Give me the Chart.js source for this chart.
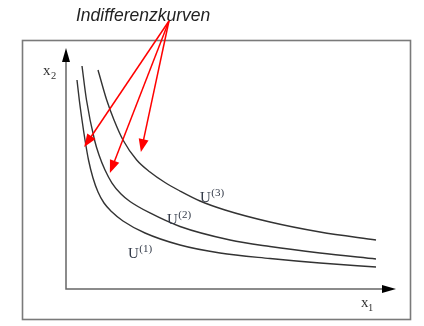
<!DOCTYPE html>
<html>
<head>
<meta charset="utf-8">
<script src="https://cdn.jsdelivr.net/npm/chart.js@4.4.0/dist/chart.umd.min.js"></script>
<style>
  html, body { margin: 0; padding: 0; background: #fff; }
</style>
</head>
<body>
<canvas id="graficoKurven" width="424" height="326"></canvas>
<script>
// Indifferenzkurven
const u1X = [0.333, 0.403, 0.485, 0.576, 0.682, 0.818, 0.970, 1.152, 1.394, 1.727, 2.394, 3.455, 4.667, 6.182, 7.697, 9.394];
const u1Y = [8.672, 7.842, 7.012, 6.183, 5.353, 4.606, 4.025, 3.568, 3.195, 2.822, 2.324, 1.826, 1.494, 1.266, 1.079, 0.913];
const u2X = [0.485, 0.621, 0.864, 1.000, 1.182, 1.394, 1.667, 1.939, 2.545, 3.455, 4.970, 6.182, 7.697, 9.394];
const u2Y = [9.253, 7.842, 6.183, 5.560, 4.938, 4.398, 3.942, 3.631, 3.154, 2.593, 2.033, 1.763, 1.494, 1.245];
const u3X = [0.970, 1.233, 1.455, 1.727, 2.142, 2.545, 3.000, 3.455, 4.061, 4.818, 6.182, 7.697, 9.394];
const u3Y = [9.087, 7.842, 7.012, 6.183, 5.353, 4.855, 4.419, 4.066, 3.651, 3.278, 2.780, 2.365, 2.033];

// Beschriftungen der Kurven
const kurvenNamen = ['1', '2', '3'];
const namenX = [1.88, 3.06, 4.06];
const namenY = [1.29, 2.70, 3.61];

// Pfeile: gemeinsamer Ursprung und Spitzen
const titel = 'Indifferenzkurven';
const pfeilStart = { x: 3.12, y: 11.12 };
const pfeilSpitzeX = [0.55, 1.33, 2.27];
const pfeilSpitzeY = [5.89, 4.81, 5.68];

function punkte(xs, ys) {
    return xs.map(function (x, i) { return { x: x, y: ys[i] }; });
}

function kurve(xs, ys) {
    return {
        data: punkte(xs, ys),
        showLine: true,
        borderColor: '#333',
        borderWidth: 1.4,
        pointRadius: 0,
        fill: false,
        cubicInterpolationMode: 'monotone'
    };
}

function spitze(ctx, x0, y0, x1, y1, len, half) {
    const a = Math.atan2(y1 - y0, x1 - x0);
    ctx.beginPath();
    ctx.moveTo(x1, y1);
    ctx.lineTo(x1 - len * Math.cos(a) + half * Math.sin(a), y1 - len * Math.sin(a) - half * Math.cos(a));
    ctx.lineTo(x1 - len * Math.cos(a) - half * Math.sin(a), y1 - len * Math.sin(a) + half * Math.cos(a));
    ctx.closePath();
    ctx.fill();
}

const dibujo = {
    id: 'dibujo',
    beforeDatasetsDraw: function (chart) {
        const ctx = chart.ctx;
        const a = chart.chartArea;
        ctx.save();
        // Rahmen
        ctx.strokeStyle = '#7a7a7a';
        ctx.lineWidth = 1.6;
        ctx.strokeRect(22.5, 40.5, 388, 279);
        // Achsen
        ctx.strokeStyle = '#666';
        ctx.lineWidth = 1.5;
        ctx.beginPath();
        ctx.moveTo(a.left, a.top + 10);
        ctx.lineTo(a.left, a.bottom);
        ctx.lineTo(a.right - 10, a.bottom);
        ctx.stroke();
        ctx.fillStyle = '#000';
        spitze(ctx, a.left, a.bottom, a.left, a.top, 14, 4);
        spitze(ctx, a.left, a.bottom, a.right, a.bottom, 14, 4);
        // Achsenbeschriftung
        ctx.fillStyle = '#333';
        ctx.font = '15px "Liberation Serif"';
        ctx.fillText('x', a.left - 23, a.top + 27);
        ctx.fillText('x', a.right - 35, a.bottom + 18);
        ctx.font = '10.5px "Liberation Serif"';
        ctx.fillText('2', a.left - 15, a.top + 31);
        ctx.fillText('1', a.right - 28, a.bottom + 22);
        ctx.restore();
    },
    afterDatasetsDraw: function (chart) {
        const ctx = chart.ctx;
        const sx = chart.scales.x;
        const sy = chart.scales.y;
        ctx.save();
        // Titel
        ctx.fillStyle = '#222';
        ctx.font = 'italic 17.5px "Liberation Sans"';
        ctx.textBaseline = 'alphabetic';
        ctx.fillText(titel, 76, 21);
        // Pfeile
        const x0 = sx.getPixelForValue(pfeilStart.x);
        const y0 = sy.getPixelForValue(pfeilStart.y);
        ctx.strokeStyle = '#ff0000';
        ctx.fillStyle = '#ff0000';
        ctx.lineWidth = 1.5;
        pfeilSpitzeX.forEach(function (px, i) {
            const x1 = sx.getPixelForValue(px);
            const y1 = sy.getPixelForValue(pfeilSpitzeY[i]);
            const ang = Math.atan2(y1 - y0, x1 - x0);
            ctx.beginPath();
            ctx.moveTo(x0, y0);
            ctx.lineTo(x1 - 10 * Math.cos(ang), y1 - 10 * Math.sin(ang));
            ctx.stroke();
            spitze(ctx, x0, y0, x1, y1, 13, 5);
        });
        // Kurvennamen
        ctx.fillStyle = '#333a48';
        kurvenNamen.forEach(function (n, i) {
            const x = sx.getPixelForValue(namenX[i]);
            const y = sy.getPixelForValue(namenY[i]);
            ctx.font = '15px "Liberation Serif"';
            ctx.fillText('U', x, y);
            const w = ctx.measureText('U').width;
            ctx.font = '11px "Liberation Serif"';
            ctx.fillText('(' + n + ')', x + w + 0.5, y - 6);
        });
        ctx.restore();
    }
};

new Chart(document.getElementById('graficoKurven').getContext('2d'), {
    type: 'scatter',
    data: {
        datasets: [kurve(u1X, u1Y), kurve(u2X, u2Y), kurve(u3X, u3Y)]
    },
    options: {
        responsive: false,
        animation: false,
        devicePixelRatio: 1,
        layout: { padding: { left: 66, right: 28, top: 48, bottom: 37 } },
        scales: {
            x: { type: 'linear', min: 0, max: 10, display: false },
            y: { type: 'linear', min: 0, max: 10, display: false }
        },
        plugins: {
            legend: { display: false },
            tooltip: { enabled: false }
        }
    },
    plugins: [dibujo]
});
</script>
</body>
</html>
